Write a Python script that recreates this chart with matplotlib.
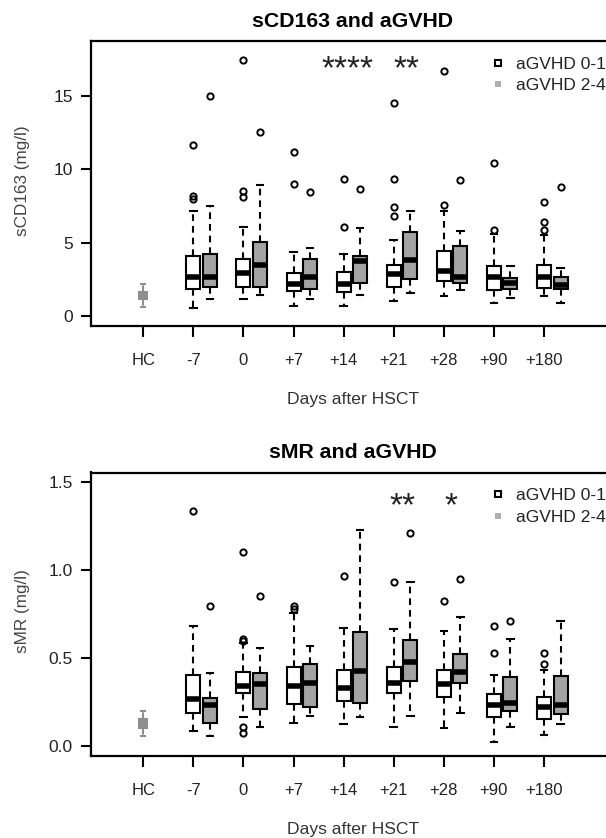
import numpy as np
import matplotlib
matplotlib.use('Agg')
import matplotlib.pyplot as plt
from matplotlib.lines import Line2D

plt.rcParams['font.family'] = ['Liberation Sans', 'DejaVu Sans']

days = ['HC', '-7', '0', '+7', '+14', '+21', '+28', '+90', '+180']

# ---- sCD163 (mg/l) ----
cd_hc = dict(whislo=0.62, q1=1.16, med=1.4, q3=1.67, whishi=2.19)

cd_lo_01 = [0.55, 1.16, 0.71, 0.71, 1.06, 1.38, 0.89, 1.34]
cd_q1_01 = [1.83, 2.01, 1.72, 1.65, 2.01, 2.39, 1.79, 1.90]
cd_med_01 = [2.64, 2.95, 2.19, 2.19, 2.86, 3.09, 2.68, 2.68]
cd_q3_01 = [4.08, 3.92, 2.91, 3.00, 3.47, 4.43, 3.40, 3.47]
cd_hi_01 = [7.18, 6.05, 4.37, 4.21, 5.20, 7.18, 5.60, 5.50]
cd_out_01 = [[7.96, 8.19, 11.66], [8.12, 8.52, 17.4], [8.98, 11.2], [6.1, 9.32],
             [6.82, 7.41, 9.32, 14.5], [7.57, 16.7], [5.86, 10.4], [5.86, 6.43, 7.8]]

cd_lo_24 = [1.16, 1.45, 1.16, 1.45, 1.60, 1.79, 1.22, 0.89]
cd_q1_24 = [1.97, 2.01, 1.83, 2.28, 2.53, 2.28, 1.83, 1.85]
cd_med_24 = [2.68, 3.47, 2.68, 3.76, 3.81, 2.68, 2.24, 2.12]
cd_q3_24 = [4.21, 5.04, 3.92, 4.08, 5.71, 4.77, 2.57, 2.68]
cd_hi_24 = [7.50, 8.93, 4.66, 6.01, 7.13, 5.78, 3.40, 3.31]
cd_out_24 = [[14.95], [12.55], [8.43], [8.66], [], [9.25], [], [8.82]]

cd_star_x = [4.07, 5.26]
cd_star_y = [17.05, 17.05]
cd_star_txt = ['****', '**']

# ---- sMR (mg/l) ----
mr_hc = dict(whislo=0.058, q1=0.102, med=0.13, q3=0.153, whishi=0.202)

mr_lo_01 = [0.089, 0.168, 0.134, 0.125, 0.111, 0.102, 0.026, 0.064]
mr_q1_01 = [0.188, 0.301, 0.240, 0.259, 0.305, 0.278, 0.168, 0.155]
mr_med_01 = [0.267, 0.343, 0.343, 0.333, 0.362, 0.354, 0.235, 0.221]
mr_q3_01 = [0.403, 0.422, 0.452, 0.434, 0.449, 0.434, 0.295, 0.282]
mr_hi_01 = [0.683, 0.585, 0.756, 0.670, 0.665, 0.655, 0.405, 0.434]
mr_out_01 = [[1.34], [0.074, 0.111, 0.60, 0.61, 1.106], [0.78, 0.80], [0.968],
             [0.936], [0.828], [0.528, 0.685], [0.468, 0.528]]

mr_lo_24 = [0.058, 0.108, 0.172, 0.168, 0.172, 0.188, 0.108, 0.125]
mr_q1_24 = [0.134, 0.210, 0.221, 0.248, 0.371, 0.358, 0.202, 0.184]
mr_med_24 = [0.235, 0.354, 0.362, 0.428, 0.481, 0.424, 0.248, 0.233]
mr_q3_24 = [0.276, 0.415, 0.468, 0.651, 0.604, 0.524, 0.395, 0.401]
mr_hi_24 = [0.418, 0.557, 0.572, 1.23, 0.936, 0.736, 0.610, 0.712]
mr_out_24 = [[0.797], [0.856], [], [], [1.214], [0.95], [0.712], []]

mr_star_x = [5.165, 6.15]
mr_star_y = [1.39, 1.39]
mr_star_txt = ['**', '*']

W, H = 606, 838
GRAY = '#a3a3a3'
HCGRAY = '#8e8e8e'


def make_stats(lo, q1, med, q3, hi, out):
    return [dict(whislo=a, q1=b, med=c, q3=d, whishi=e, fliers=f)
            for a, b, c, d, e, f in zip(lo, q1, med, q3, hi, out)]


def fx(px):
    return px / W


def fy(py):
    return 1 - py / H


def draw_boxes(ax, stats, pos, face, edge, width):
    ax.bxp(stats, positions=pos, widths=width, patch_artist=True,
           manage_ticks=False, capwidths=width * 0.47,
           boxprops=dict(facecolor=face, edgecolor=edge, linewidth=1.5),
           medianprops=dict(color=edge, linewidth=4, solid_capstyle='butt'),
           whiskerprops=dict(color=edge, linewidth=1.5, linestyle=(0, (3.2, 2.4))),
           capprops=dict(color=edge, linewidth=1.5),
           flierprops=dict(marker='o', markersize=4.5, markerfacecolor='none',
                           markeredgecolor=edge, markeredgewidth=1.4))


def panel(top_px, bot_px, hc, st01, st24, ylim, yticks, ylabels, ylab, title,
          sx, sy, stxt):
    ax = fig.add_axes([fx(90.7), fy(bot_px), fx(618 - 90.7), (bot_px - top_px) / H])
    x = np.arange(1, len(days))
    hc_stats = [dict(hc, fliers=[])]
    draw_boxes(ax, hc_stats, [0], HCGRAY, HCGRAY, 0.16)
    draw_boxes(ax, st01, x, 'white', 'black', 0.28)
    draw_boxes(ax, st24, x + 0.33, GRAY, 'black', 0.28)

    ax.set_xlim(-1.05, 9.477)
    ax.set_ylim(*ylim)
    ax.set_xticks(np.arange(len(days)))
    ax.set_xticklabels(days)
    ax.set_yticks(yticks)
    ax.set_yticklabels(ylabels)
    ax.tick_params(axis='x', length=8, width=1.5, pad=11.5, labelsize=12, labelcolor='#222222')
    ax.tick_params(axis='y', length=7, width=1.5, pad=6, labelsize=12.5, labelcolor='#222222')
    for s in ax.spines.values():
        s.set_linewidth(1.6)

    for xs, ys, t in zip(sx, sy, stxt):
        ax.annotate(t, (xs, ys), xytext=(0, -9.4), textcoords='offset points',
                    ha='center', va='baseline', fontsize=24, color='#222222')

    handles = [Line2D([], [], ls='none', marker='s', ms=4.8, mfc='white', mec='black', mew=1.5),
               Line2D([], [], ls='none', marker='s', ms=5, mfc='#b0b0b0', mec='#b0b0b0', mew=0)]
    ax.legend(handles, ['aGVHD 0-1', 'aGVHD 2-4'], loc='upper left',
              bbox_to_anchor=(0.756, 0.945), frameon=False, fontsize=12.5,
              handlelength=1.0, handletextpad=0.55, labelspacing=0.36,
              borderpad=0, borderaxespad=0, labelcolor='#222222')

    fig.text(fx(352.5), fy(top_px - 19.5), title, ha='center', va='center',
             fontsize=15.3, fontweight='bold')
    fig.text(fx(353), fy(bot_px + 73.3), 'Days after HSCT', ha='center', va='center',
             fontsize=12.6, color='#333333')
    fig.text(fx(23), fy((top_px + bot_px) / 2 - 3), ylab, ha='center', va='center',
             rotation=90, fontsize=12.3, color='#444444')
    return ax


fig = plt.figure(figsize=(W / 100, H / 100), dpi=100)

panel(41, 326, cd_hc,
      make_stats(cd_lo_01, cd_q1_01, cd_med_01, cd_q3_01, cd_hi_01, cd_out_01),
      make_stats(cd_lo_24, cd_q1_24, cd_med_24, cd_q3_24, cd_hi_24, cd_out_24),
      (-0.667, 18.72), [0, 5, 10, 15], ['0', '5', '10', '15'],
      'sCD163 (mg/l)', 'sCD163 and aGVHD', cd_star_x, cd_star_y, cd_star_txt)

panel(472.5, 756, mr_hc,
      make_stats(mr_lo_01, mr_q1_01, mr_med_01, mr_q3_01, mr_hi_01, mr_out_01),
      make_stats(mr_lo_24, mr_q1_24, mr_med_24, mr_q3_24, mr_hi_24, mr_out_24),
      (-0.055, 1.556), [0, 0.5, 1.0, 1.5], ['0.0', '0.5', '1.0', '1.5'],
      'sMR (mg/l)', 'sMR and aGVHD', mr_star_x, mr_star_y, mr_star_txt)

fig.savefig('out.png', dpi=100)
